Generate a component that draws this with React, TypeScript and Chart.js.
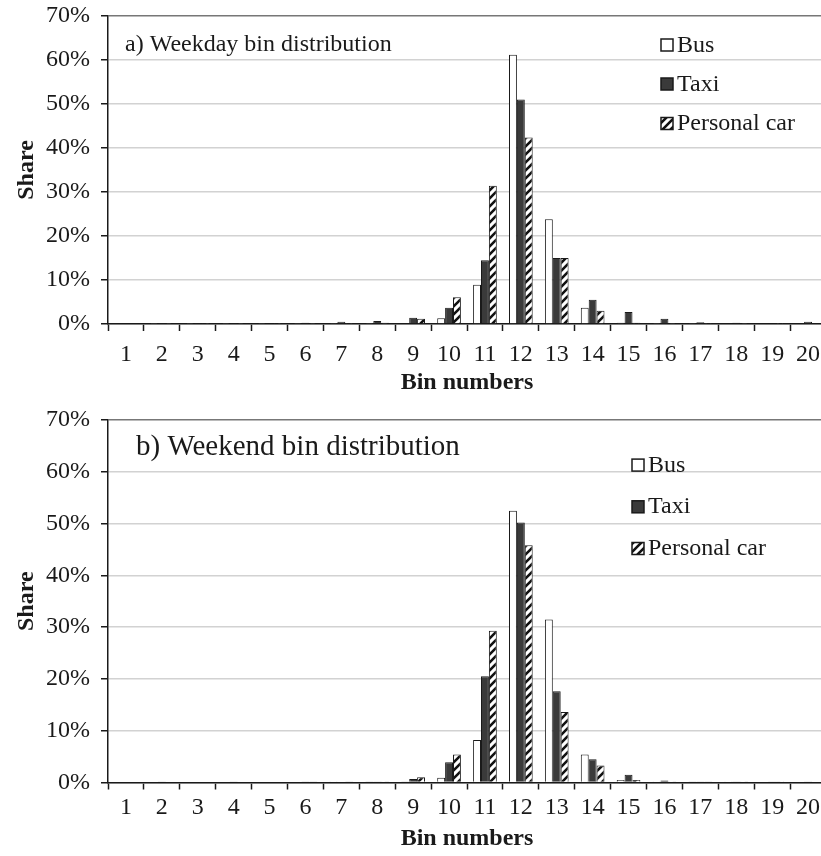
import React, { useEffect, useRef } from "react";
import { Chart, registerables } from "chart.js";

Chart.register(...registerables);

// ---------- data ----------
const BINS = ["1", "2", "3", "4", "5", "6", "7", "8", "9", "10", "11", "12", "13", "14", "15", "16", "17", "18", "19", "20"];
const SERIES_NAMES = ["Bus", "Taxi", "Personal car"];

const WEEKDAY_BUS = [0, 0.1, 0.1, 0.1, 0.1, 0.1, 0.1, 0.1, 0.2, 1.3, 8.9, 61.2, 23.8, 3.7, 0.3, 0.1, 0.1, 0, 0, 0];
const WEEKDAY_TAXI = [0.2, 0.1, 0.1, 0.1, 0.2, 0.3, 0.5, 0.7, 1.4, 3.7, 14.5, 51.0, 15.0, 5.5, 2.7, 1.2, 0.4, 0.3, 0.2, 0.5];
const WEEKDAY_CAR = [0, 0.1, 0.1, 0.1, 0.1, 0.1, 0.1, 0.3, 1.2, 6.1, 31.4, 42.4, 15.0, 3.0, 0.3, 0.1, 0.1, 0.1, 0.1, 0];

const WEEKEND_BUS = [0, 0, 0, 0, 0, 0, 0.05, 0.1, 0.1, 0.9, 8.2, 52.5, 31.5, 5.4, 0.5, 0.2, 0.1, 0.05, 0, 0];
const WEEKEND_TAXI = [0, 0.05, 0, 0.05, 0, 0.1, 0.15, 0.2, 0.7, 3.9, 20.5, 50.2, 17.6, 4.5, 1.5, 0.4, 0.1, 0.1, 0.05, 0.05];
const WEEKEND_CAR = [0, 0, 0, 0, 0, 0.1, 0.1, 0.2, 1.0, 5.4, 29.3, 45.8, 13.6, 3.3, 0.5, 0.2, 0.1, 0.05, 0.05, 0];

const Y_MIN = 0;
const Y_MAX = 70;
const Y_STEP = 10;

const FONT = "'Liberation Serif', 'Times New Roman', serif";
const INK = "#1a1a1a";
const TAXI_FILL = "#3a3a3a";
const CANVAS_W = 826;

function makeHatch(): CanvasPattern | string {
  const c = document.createElement("canvas");
  c.width = 8;
  c.height = 8;
  const g = c.getContext("2d");
  if (!g) return "#888";
  g.fillStyle = "#fff";
  g.fillRect(0, 0, 8, 8);
  g.strokeStyle = "#111";
  g.lineWidth = 2.6;
  g.beginPath();
  g.moveTo(-2, 10);
  g.lineTo(10, -2);
  g.moveTo(-2, 2);
  g.lineTo(2, -2);
  g.moveTo(6, 10);
  g.lineTo(10, 6);
  g.stroke();
  return g.createPattern(c, "repeat") || "#888";
}

type PanelProps = {
  height: number;
  top: number;
  plotTop: number;
  plotBottom: number;
  tickPad: number;
  bus: number[];
  taxi: number[];
  car: number[];
  label: string;
  labelFont: number;
  labelDx: number;
  labelBaseline: number;
  legendDx: number;
  legendBaselines: number[];
};

function Panel(p: PanelProps) {
  const ref = useRef<HTMLCanvasElement | null>(null);
  useEffect(() => {
    const canvas = ref.current;
    if (!canvas) return;
    const hatch = makeHatch();
    const fills: (string | CanvasPattern)[] = ["#ffffff", TAXI_FILL, hatch];

    const overlay = {
      id: "overlay",
      afterDraw(chart: any) {
        const { ctx, chartArea } = chart;
        ctx.save();
        ctx.fillStyle = INK;
        ctx.textAlign = "left";
        ctx.textBaseline = "alphabetic";
        ctx.font = `${p.labelFont}px ${FONT}`;
        ctx.fillText(p.label, chartArea.left + p.labelDx, chartArea.top + p.labelBaseline);
        ctx.font = `24px ${FONT}`;
        const bx = chartArea.left + p.legendDx;
        SERIES_NAMES.forEach((name, i) => {
          const base = chartArea.top + p.legendBaselines[i];
          const size = 12;
          const by = base - size - 0.5;
          ctx.fillStyle = fills[i];
          ctx.fillRect(bx, by, size, size);
          ctx.strokeStyle = INK;
          ctx.lineWidth = 1.5;
          ctx.strokeRect(bx, by, size, size);
          ctx.fillStyle = INK;
          ctx.fillText(name, bx + 16, base);
        });
        ctx.restore();
      },
    };

    const chart = new Chart(canvas, {
      type: "bar",
      data: {
        labels: BINS,
        datasets: [
          { label: SERIES_NAMES[0], data: p.bus, backgroundColor: fills[0], borderColor: INK, borderWidth: 1 },
          { label: SERIES_NAMES[1], data: p.taxi, backgroundColor: fills[1], borderColor: INK, borderWidth: 1 },
          { label: SERIES_NAMES[2], data: p.car, backgroundColor: fills[2], borderColor: INK, borderWidth: 1 },
        ],
      },
      options: {
        responsive: false,
        animation: false,
        devicePixelRatio: 1,
        layout: { padding: { left: 0, right: 0, top: p.plotTop, bottom: 0 } },
        datasets: { bar: { categoryPercentage: 0.66, barPercentage: 1.0 } },
        plugins: { legend: { display: false }, tooltip: { enabled: false }, title: { display: false } },
        scales: {
          x: {
            afterFit: (s: any) => {
              s.height = p.height - p.plotBottom;
              s.paddingLeft = 0;
              s.paddingRight = 0;
            },
            grid: { display: true, drawOnChartArea: false, drawTicks: true, tickLength: 7, tickColor: INK, tickWidth: 1.5, offset: true },
            border: { display: true, color: INK, width: 1.5 },
            ticks: { color: INK, font: { family: FONT, size: 24 }, padding: p.tickPad, maxRotation: 0, autoSkip: false },
            title: { display: true, text: "Bin numbers", color: INK, font: { family: FONT, size: 24, weight: "bold" }, padding: { top: 0, bottom: 3 } },
          },
          y: {
            min: Y_MIN,
            max: Y_MAX,
            afterFit: (s: any) => {
              s.width = 108;
              s.paddingTop = 0;
              s.paddingBottom = 0;
            },
            grid: {
              color: (c: any) => (c.tick && c.tick.value === Y_MAX ? "#777" : "#d2d2d2"),
              lineWidth: 1.5,
              drawTicks: true,
              tickLength: 7,
              tickColor: INK,
              tickWidth: 1.5,
            },
            border: { display: true, color: INK, width: 1.5 },
            ticks: { stepSize: Y_STEP, color: INK, font: { family: FONT, size: 24 }, padding: 11, callback: (v: any) => `${v}%` },
            title: { display: true, text: "Share", color: INK, font: { family: FONT, size: 24, weight: "bold" }, padding: { top: 12, bottom: 0 } },
          },
        },
      },
      plugins: [overlay],
    } as any);
    return () => chart.destroy();
  }, []);
  return (
    <canvas
      ref={ref}
      width={CANVAS_W}
      height={p.height}
      style={{ position: "absolute", left: 0, top: p.top, width: CANVAS_W, height: p.height, display: "block" }}
    />
  );
}

export default function App() {
  return (
    <div style={{ position: "absolute", left: 0, top: 0, width: 821, height: 856, background: "#fff", overflow: "hidden" }}>
      <Panel
        height={400}
        top={0}
        plotTop={16}
        plotBottom={324}
        tickPad={9}
        bus={WEEKDAY_BUS}
        taxi={WEEKDAY_TAXI}
        car={WEEKDAY_CAR}
        label="a) Weekday bin distribution"
        labelFont={24}
        labelDx={17}
        labelBaseline={35}
        legendDx={553}
        legendBaselines={[35.5, 74.5, 114]}
      />
      <Panel
        height={456}
        top={400}
        plotTop={20}
        plotBottom={382.5}
        tickPad={4}
        bus={WEEKEND_BUS}
        taxi={WEEKEND_TAXI}
        car={WEEKEND_CAR}
        label="b) Weekend bin distribution"
        labelFont={29}
        labelDx={28}
        labelBaseline={35}
        legendDx={524}
        legendBaselines={[51.6, 93.3, 135]}
      />
    </div>
  );
}
